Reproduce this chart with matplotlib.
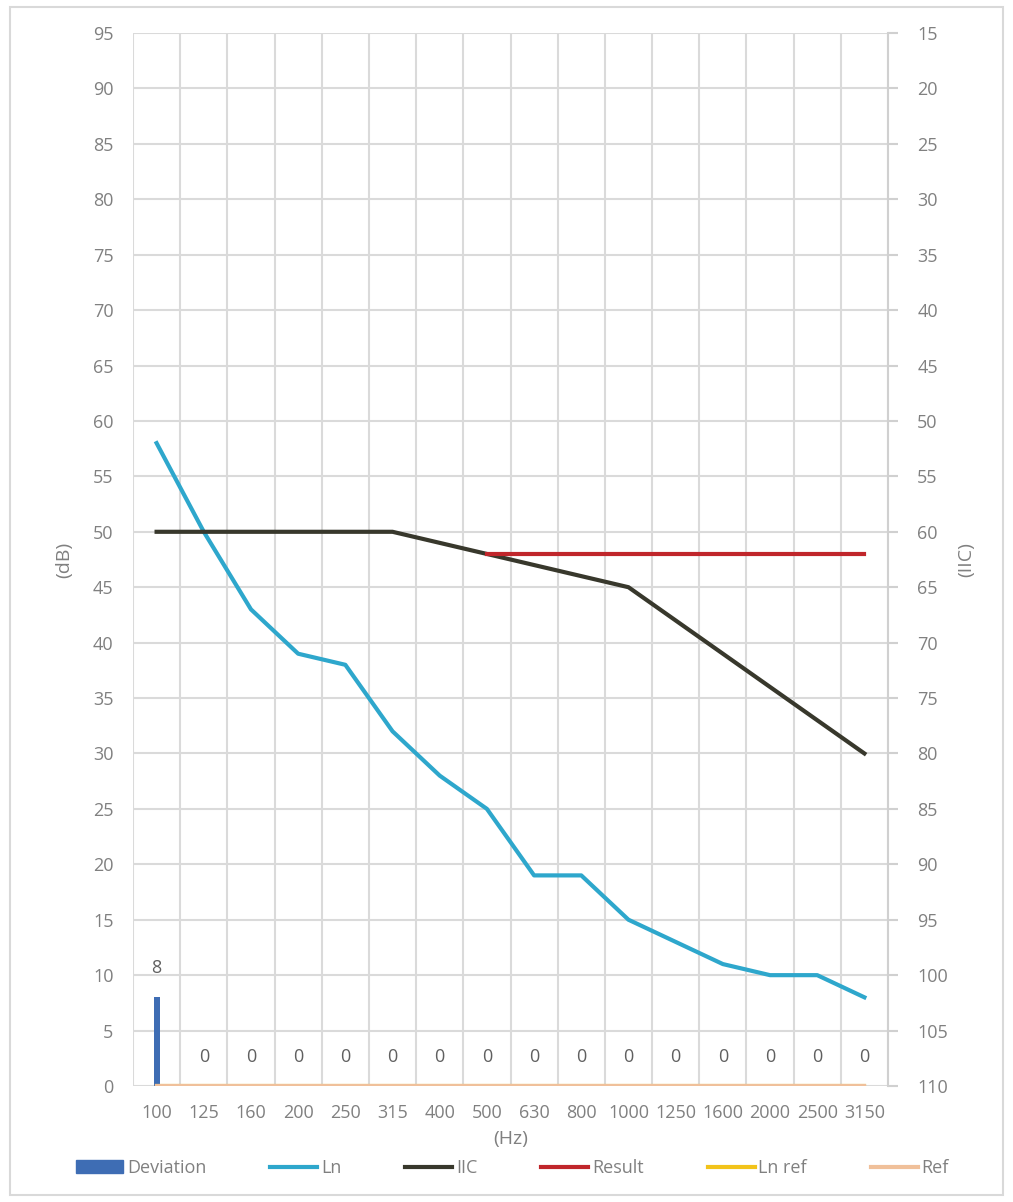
import numpy as np
import matplotlib
matplotlib.use("Agg")
import matplotlib.pyplot as plt
from matplotlib.patches import Rectangle, Patch
from matplotlib.lines import Line2D

plt.rcParams['font.family'] = ['Open Sans', 'DejaVu Sans']

# one-third octave bands
freqs = ['100', '125', '160', '200', '250', '315', '400', '500',
         '630', '800', '1000', '1250', '1600', '2000', '2500', '3150']
deviation = [8, 0, 0, 0, 0, 0, 0, 0, 0, 0, 0, 0, 0, 0, 0, 0]
ln = [58, 50, 43, 39, 38, 32, 28, 25, 19, 19, 15, 13, 11, 10, 10, 8]
iic = [50, 50, 50, 50, 50, 50, 49, 48, 47, 46, 45, 42, 39, 36, 33, 30]
result_level = 48
result_start = 7  # 500 Hz
ln_ref = [0] * 16
ref = [0] * 16

grey = '#808080'
grid_c = '#dadada'

fig = plt.figure(figsize=(10.13, 12.02), dpi=100)
fig.patches.append(Rectangle((10 / 1013, 7 / 1202), 993 / 1013, 1188 / 1202,
                             transform=fig.transFigure, fill=False,
                             edgecolor='#d9d9d9', linewidth=1.5))

ax = fig.add_axes([133 / 1013, 1 - 1086 / 1202, 755 / 1013, 1053 / 1202])
x = np.arange(len(freqs))

ax.bar(x, deviation, width=0.13, color='#3e6db4', zorder=3)
for xi, d in zip(x, deviation):
    ax.annotate(str(d), (xi, d), xytext=(0, 21), textcoords='offset points',
                ha='center', va='center', fontsize=13, color='#606060')

ax.plot(x, ln, color='#2ea7cc', linewidth=3, zorder=4)
ax.plot(x, iic, color='#38382c', linewidth=3, zorder=4)
ax.plot(x[result_start:], [result_level] * len(x[result_start:]),
        color='#c0262b', linewidth=3, zorder=4)
ax.plot(x, ln_ref, color='#f2c31a', linewidth=3, zorder=4)
ax.plot(x, ref, color='#f0c09a', linewidth=3, zorder=5)

ax.set_xlim(-0.5, len(freqs) - 0.5)
ax.set_ylim(0, 95)
ax.set_yticks(np.arange(0, 96, 5))
ax.set_xticks(x)
ax.set_xticklabels(freqs)
ax.set_xticks(np.arange(-0.5, len(freqs), 1), minor=True)
ax.grid(axis='y', which='major', color=grid_c, linewidth=1.5, zorder=0)
ax.grid(axis='x', which='minor', color=grid_c, linewidth=1.5, zorder=0)
ax.set_axisbelow(True)
for s in ax.spines.values():
    s.set_visible(False)
ax.tick_params(axis='both', which='both', length=0, colors=grey, labelsize=13)
ax.tick_params(axis='y', pad=14)
ax.tick_params(axis='x', pad=13)
ax.set_ylabel('(dB)', color=grey, fontsize=14, labelpad=14)
ax.set_xlabel('(Hz)', color=grey, fontsize=14, labelpad=6)

ax2 = ax.twinx()
ax2.set_ylim(110, 15)
ax2.set_yticks(np.arange(15, 111, 5))
for s in ax2.spines.values():
    s.set_visible(False)
ax2.spines['right'].set_visible(True)
ax2.spines['right'].set_color('#d0d0d0')
ax2.spines['right'].set_linewidth(1.5)
ax2.tick_params(axis='y', length=7, width=1.5, color='#d0d0d0',
                labelcolor=grey, labelsize=13, pad=14)
ax2.set_ylabel('(IIC)', color=grey, fontsize=14, rotation=90, labelpad=7)

handles = [Patch(color='#3e6db4'),
           Line2D([], [], color='#2ea7cc', linewidth=3),
           Line2D([], [], color='#38382c', linewidth=3),
           Line2D([], [], color='#c0262b', linewidth=3),
           Line2D([], [], color='#f2c31a', linewidth=3),
           Line2D([], [], color='#f0c09a', linewidth=3)]
labels = ['Deviation', 'Ln', 'IIC', 'Result', 'Ln ref', 'Ref']
leg = fig.legend(handles, labels, loc='center', ncol=6, frameon=False,
                 bbox_to_anchor=(60 / 1013, 1 - 1185 / 1202, 905 / 1013, 34 / 1202),
                 mode='expand', fontsize=13, handlelength=2.6, handletextpad=0.2,
                 labelcolor=grey)

fig.savefig('out.png', dpi=100)
